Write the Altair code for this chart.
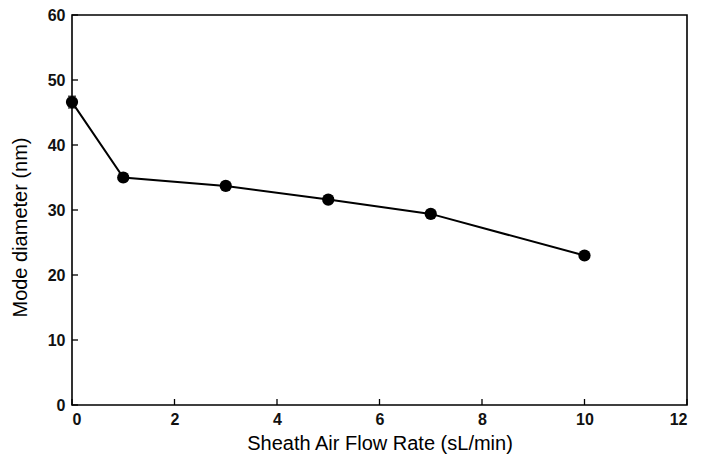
import altair as alt
import pandas as pd

flow = [0, 1, 3, 5, 7, 10]
diam = [46.6, 35.0, 33.7, 31.6, 29.4, 23.0]
err = [0.9, 0.6, 0.3, 0.3, 0.3, 0.3]
xticks = [0, 2, 4, 6, 8, 10, 12]
yticks = [0, 10, 20, 30, 40, 50, 60]

df = pd.DataFrame({"flow": flow, "diam": diam,
                   "lo": [d - e for d, e in zip(diam, err)],
                   "hi": [d + e for d, e in zip(diam, err)]})
xt = pd.DataFrame({"v": xticks})
yt = pd.DataFrame({"v": yticks})

W, H = 615, 390
font = "Liberation Sans"
XT = "Sheath Air Flow Rate (sL/min)"
YT = "Mode diameter (nm)"

xs = alt.Scale(domain=[0, 12], nice=False, zero=False)
ys = alt.Scale(domain=[0, 60], nice=False)

xax = alt.Axis(values=xticks, ticks=False, domain=False, grid=False, labelFontSize=16,
               labelFont=font, labelFontWeight="bold", labelColor="#111", labelPadding=6,
               titleFont=font, titleFontSize=20,
               titleFontWeight="normal", titleColor="black", titlePadding=6)
yax = alt.Axis(values=yticks, ticks=False, domain=False, grid=False, labelFontSize=16,
               labelFont=font, labelFontWeight="bold", labelColor="#111", labelPadding=7,
               titleFont=font, titleFontSize=20, titleY=212,
               titleFontWeight="normal", titleColor="black", titlePadding=17)

base = alt.Chart(df)
line = base.mark_line(color="black", strokeWidth=2).encode(
    x=alt.X("flow:Q", scale=xs, axis=xax, title=XT),
    y=alt.Y("diam:Q", scale=ys, axis=yax, title=YT))
pts = base.mark_circle(color="black", size=150, opacity=1).encode(
    x=alt.X("flow:Q", scale=xs, title=XT), y=alt.Y("diam:Q", scale=ys, title=YT))
eb = base.mark_errorbar(ticks=alt.TickConfig(size=8), color="black", thickness=1.5).encode(
    x=alt.X("flow:Q", scale=xs, title=XT), y=alt.Y("lo:Q", scale=ys, title=YT), y2="hi:Q")

xtick = alt.Chart(xt).mark_rule(color="black", strokeWidth=1.3).encode(
    x=alt.X("v:Q", scale=xs, title=XT), y=alt.value(H), y2=alt.value(H - 6))
ytick = alt.Chart(yt).mark_rule(color="black", strokeWidth=1.3).encode(
    y=alt.Y("v:Q", scale=ys, title=YT), x=alt.value(0), x2=alt.value(6))

chart = alt.layer(xtick, ytick, line, eb, pts).properties(
    width=W, height=H,
    background="white",
    autosize=alt.AutoSizeParams(type="none"),
    padding={"left": 64, "top": 7, "right": 10, "bottom": 60},
).configure_view(stroke="black", strokeWidth=1.6)

chart.save("out.html", embed_options={"renderer": "svg", "actions": False})
